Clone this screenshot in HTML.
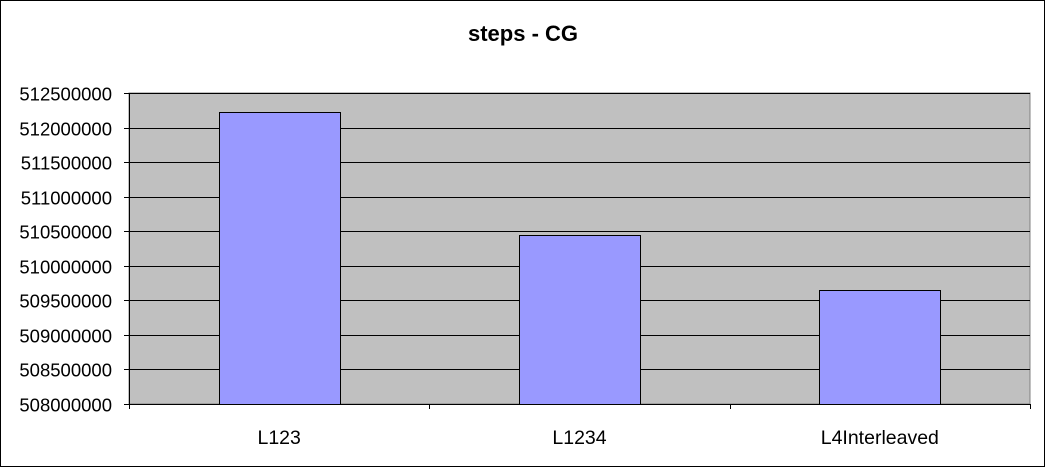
<!DOCTYPE html>
<html><head><meta charset="utf-8"><style>
body{margin:0;background:#fff;}
svg{display:block;font-family:"Liberation Sans",Arial,sans-serif;}
</style></head><body>
<svg id="chart" width="1046" height="468">
<rect x="0.5" y="0.5" width="1044" height="466" fill="#fff" stroke="#000"/>
<text x="523" y="41" text-anchor="middle" font-size="22" font-weight="bold">steps - CG</text>
<rect x="129" y="93" width="901" height="311" fill="#c0c0c0" stroke="#808080"/>
<g id="grid"></g><g id="bars"></g><g id="axes"></g>
</svg>
<script>
const categories=["L123","L1234","L4Interleaved"];
const values=[512225000,510445000,509650000];
const yTicks=[508000000,508500000,509000000,509500000,510000000,510500000,511000000,511500000,512000000,512500000];
const NS="http://www.w3.org/2000/svg";
const L=129,R=1030,T=93,B=404,yMin=508000000,yMax=512500000;
const y=v=>B-(v-yMin)/(yMax-yMin)*(B-T);
const cw=(R-L)/categories.length;
const x=i=>L+cw*i;
function mk(tag,a,p){const e=document.createElementNS(NS,tag);for(const k in a)e.setAttribute(k,a[k]);p.appendChild(e);return e;}
const grid=document.getElementById('grid'),bars=document.getElementById('bars'),axes=document.getElementById('axes');
yTicks.forEach(t=>{
 const yy=Math.round(y(t))+0.5;
 if(t>yMin){const g=mk('line',{x1:L,x2:R,y1:yy,y2:yy,stroke:'#000'},grid);
 
 }
 const tk=mk('line',{x1:124,x2:L,y1:yy,y2:yy,stroke:'#000'},axes);
 
 
 const tx=mk('text',{x:112,y:yy+7,'text-anchor':'end','font-size':'18.5'},axes);
 tx.textContent=t;
 
 
});
values.forEach((v,i)=>{
 const bw=121,bx=Math.round(x(i)+cw/2-bw/2)+0.5,by=Math.round(y(v))+0.5;
 const r=mk('rect',{x:bx,y:by,width:bw,height:B-by+0.5,fill:'#9999ff',stroke:'#000'},bars);
 
 
 const lb=mk('text',{x:x(i)+cw/2,y:444,'text-anchor':'middle','font-size':'19.5'},axes);
 lb.textContent=categories[i];
 
 
});
const ya=mk('line',{x1:L+0.5,x2:L+0.5,y1:T,y2:B,stroke:'#000'},axes);


const xa=mk('line',{x1:L,x2:R,y1:B+0.5,y2:B+0.5,stroke:'#000'},axes);


for(let i=0;i<=categories.length;i++){
 const xx=Math.round(x(i))+0.5;
 const t=mk('line',{x1:xx,x2:xx,y1:B,y2:B+5,stroke:'#000'},axes);
 
 
}
</script>
</body></html>
